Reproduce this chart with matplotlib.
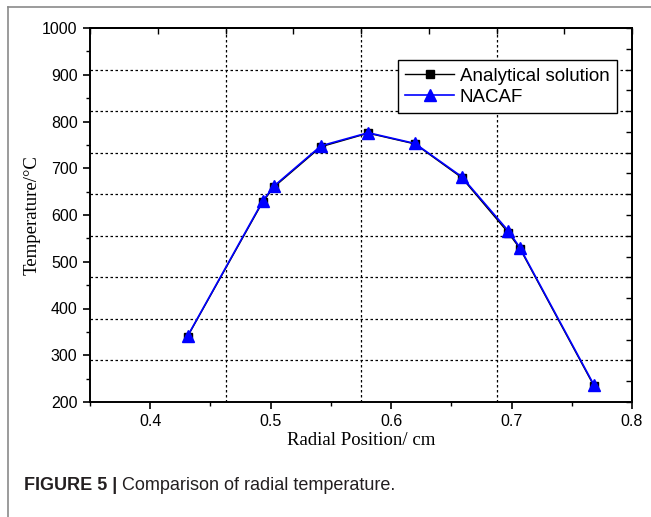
import matplotlib
matplotlib.use("Agg")
import matplotlib.pyplot as plt
import numpy as np
from matplotlib.lines import Line2D

# Data
radial_pos = [0.431, 0.4934, 0.5028, 0.5418, 0.581, 0.6198, 0.6586, 0.6973, 0.707, 0.7685]
analytical = [340, 628, 660, 746, 775, 752, 680, 562, 528, 234]
nacaf = [341, 630, 662, 748, 776, 753, 682, 566, 530, 236]

xticks = [0.4, 0.5, 0.6, 0.7, 0.8]
yticks = [200, 300, 400, 500, 600, 700, 800, 900, 1000]

W, H = 651, 517
fig = plt.figure(figsize=(W / 100, H / 100), dpi=100)
ax = fig.add_axes([90 / W, 1 - 402 / H, (632 - 90) / W, (402 - 28) / H])

sans = "Liberation Sans"
serif = "Liberation Serif"

ax.set_xlim(0.35, 0.8)
ax.set_ylim(200, 1000)

# grid (dotted, not at ticks)
for k in range(1, 4):
    ax.axvline(0.35 + k * 0.45 / 4, color="black", lw=0.9, ls=(0, (2, 2)), zorder=1)
for k in range(1, 9):
    ax.axhline(200 + k * 800 / 9, color="black", lw=0.9, ls=(0, (2, 2)), zorder=1)

ax.plot(radial_pos, analytical, color="black", lw=1.0, marker="s", ms=6,
        label="Analytical solution", zorder=3)
ax.plot(radial_pos, nacaf, color="#0000ff", lw=1.2, marker="^", ms=8,
        label="NACAF", zorder=4)

ax.set_xticks(xticks)
ax.set_xticks(np.arange(0.35, 0.801, 0.05), minor=True)
ax.set_yticks(yticks)
ax.set_yticks(np.arange(200, 1001, 50), minor=True)
ax.set_xticklabels([f"{v:g}" for v in xticks], fontfamily=sans, fontsize=11.5)
ax.set_yticklabels([str(v) for v in yticks], fontfamily=sans, fontsize=11.5)
ax.tick_params(which="major", direction="out", length=5, width=1.2, pad=4)
ax.tick_params(which="minor", direction="out", length=3, width=1.0)

for s in ax.spines.values():
    s.set_linewidth(1.4)

# top and right secondary axes with their own inward ticks
top = ax.secondary_xaxis("top")
top.set_xticks(0.35 + np.arange(0, 9) * 0.45 / 8)
top.set_xticklabels([])
top.tick_params(direction="in", length=4, width=1.0)
top.spines["top"].set_linewidth(1.4)
right = ax.secondary_yaxis("right")
right.set_yticks(200 + np.arange(0, 19) * 800 / 18)
right.set_yticklabels([])
right.tick_params(direction="in", length=4, width=1.0)
right.spines["right"].set_linewidth(1.4)

ax.set_xlabel("Radial Position/ cm", fontfamily=serif, fontsize=13.5, labelpad=2)
ax.set_ylabel("Temperature/\u00b0C", fontfamily=serif, fontsize=13.5, labelpad=1)

leg = ax.legend(loc="upper right", bbox_to_anchor=(617 / W, 1 - 60 / H),
                bbox_transform=fig.transFigure, prop={"family": sans, "size": 13.5},
                frameon=True, fancybox=False, edgecolor="black", framealpha=1,
                handlelength=2.6, handletextpad=0.3, borderpad=0.4, labelspacing=0.2,
                borderaxespad=0)
leg.get_frame().set_linewidth(1.0)

# page frame lines
fig.add_artist(Line2D([8 / W, 1], [1 - 7 / H, 1 - 7 / H], transform=fig.transFigure,
                      color="#8a8a8a", lw=1.2))
fig.add_artist(Line2D([8 / W, 8 / W], [0, 1 - 7 / H], transform=fig.transFigure,
                      color="#8a8a8a", lw=1.2))

# caption
t1 = fig.text(24 / W, 1 - 485 / H, "FIGURE 5 |", fontfamily=sans, fontsize=13,
              fontweight="bold", va="center", color="#231f20")
fig.canvas.draw()
bb = t1.get_window_extent()
fig.text((bb.x1 + 5) / W, 1 - 485 / H, "Comparison of radial temperature.",
         fontfamily=sans, fontsize=13, va="center", color="#231f20")

fig.savefig("out.png", dpi=100)
